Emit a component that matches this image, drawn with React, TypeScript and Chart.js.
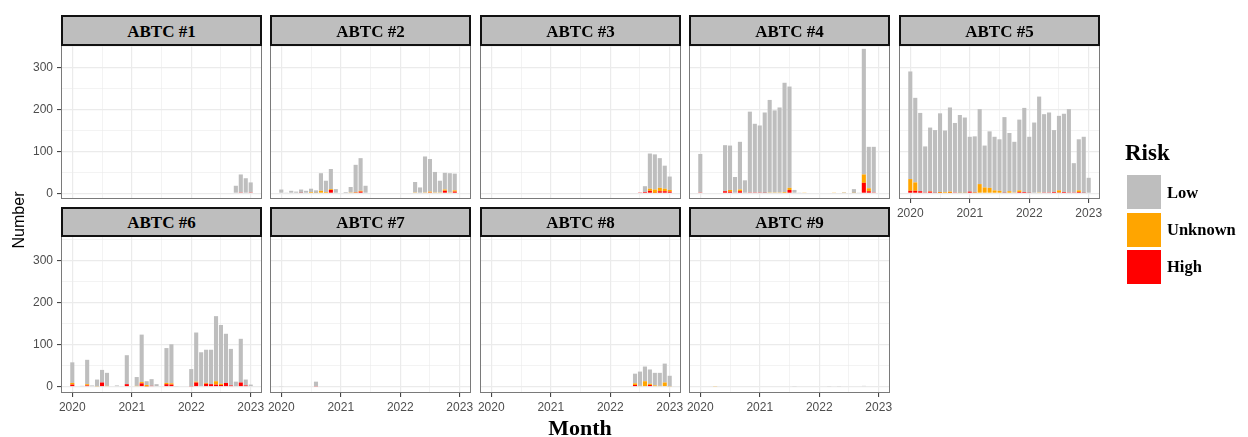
import React, { useEffect, useRef } from "react";
import { Chart, registerables } from "chart.js";

Chart.register(...registerables);

// ---------------- data ----------------
const monthLabels = [
  "2020-01", "2020-02", "2020-03", "2020-04", "2020-05", "2020-06", "2020-07", "2020-08", "2020-09", "2020-10", "2020-11", "2020-12",
  "2021-01", "2021-02", "2021-03", "2021-04", "2021-05", "2021-06", "2021-07", "2021-08", "2021-09", "2021-10", "2021-11", "2021-12",
  "2022-01", "2022-02", "2022-03", "2022-04", "2022-05", "2022-06", "2022-07", "2022-08", "2022-09", "2022-10", "2022-11", "2022-12",
  "2023-01",
];
const yearTickLabels = ["2020", "2021", "2022", "2023"];
const yTickLabels = ["0", "100", "200", "300"];
const panelTitles = ["ABTC #1", "ABTC #2", "ABTC #3", "ABTC #4", "ABTC #5", "ABTC #6", "ABTC #7", "ABTC #8", "ABTC #9"];
const riskLevels = ["Low", "Unknown", "High"];
const riskColors = ["#BEBEBE", "#FFA500", "#FF0000"];

const abtc1Low = [0,0,0,0,0,0,0,0,0,0,0,0, 0,0,0,0,0,0,0,0,0,0,0,0, 0,0,0,0,0,0,0,0,0,18,43,36, 24];
const abtc1Unknown = [0,0,0,0,0,0,0,0,0,0,0,0, 0,0,0,0,0,0,0,0,0,0,0,0, 0,0,0,0,0,0,0,0,0,0,0,0, 0];
const abtc1High = [0,0,0,0,0,0,0,0,0,0,0,0, 0,0,0,0,0,0,0,0,0,0,0,0, 0,0,0,0,0,0,0,0,0,0,2,0, 2];

const abtc2Low = [9,1,6,4,8,6,8,6,42,27,48,10, 0,3,13,66,78,18,0,0,0,0,0,0, 0,0,0,25,14,86,78,49,28,40,46,40, 0];
const abtc2Unknown = [0,0,0,0,0,0,3,1,6,3,2,0, 0,0,2,1,2,0,0,0,0,0,0,0, 0,0,0,2,0,2,2,2,2,3,2,3, 0];
const abtc2High = [0,0,0,0,1,0,0,0,0,0,8,0, 0,0,0,1,4,0,0,0,0,0,0,0, 0,0,0,0,0,0,2,0,0,6,0,4, 0];

const abtc3Low = [0,0,0,0,0,0,0,0,0,0,0,0, 0,0,0,0,0,0,0,0,0,0,0,0, 0,0,0,0,0,0,0,14,84,84,71,55, 32];
const abtc3Unknown = [0,0,0,0,0,0,0,0,0,0,0,0, 0,0,0,0,0,0,0,0,0,0,0,0, 0,0,0,0,0,0,0,0,5,8,8,6, 4];
const abtc3High = [0,0,0,0,0,0,0,0,0,0,0,0, 0,0,0,0,0,0,0,0,0,0,0,0, 0,0,0,0,0,0,2,3,6,1,5,5, 4];

const abtc4Low = [92,0,0,0,0,110,106,39,114,31,193,164, 160,192,221,196,203,261,242,8,1,0,0,0, 0,0,0,0,0,1,0,9,1,300,99,109, 0];
const abtc4Unknown = [0,0,0,0,0,0,4,0,4,0,0,0, 0,0,2,2,2,3,5,0,0,1,0,0, 0,0,0,1,0,1,0,1,0,20,7,0, 0];
const abtc4High = [2,0,0,0,0,5,4,0,5,0,2,2, 2,1,0,0,0,0,8,0,0,0,0,0, 0,0,0,0,0,0,0,0,0,25,5,2, 0];

const abtc5Low = [257,202,187,110,152,150,188,147,201,166,186,180, 131,134,179,100,135,128,123,181,139,121,169,201, 134,169,229,187,191,148,178,187,199,70,122,134, 37];
const abtc5Unknown = [28,20,0,0,1,0,2,3,3,0,1,1, 0,1,22,14,13,7,6,0,5,2,4,0, 0,0,2,0,0,0,5,0,0,0,4,0, 0];
const abtc5High = [6,6,5,2,4,1,1,0,1,2,0,0, 4,1,0,0,0,0,0,1,0,0,3,3, 1,0,0,2,2,3,2,3,2,2,3,1, 0];

const abtc6Low = [49,0,2,58,3,16,30,31,0,3,0,69, 0,21,113,9,16,6,0,83,93,1,0,0, 41,117,82,79,82,155,140,117,87,12,104,14, 5];
const abtc6Unknown = [4,0,0,3,0,1,0,2,0,0,0,0, 0,2,3,3,0,0,0,3,3,0,0,0, 0,2,0,2,0,8,3,0,0,0,0,0, 0];
const abtc6High = [5,0,0,3,0,0,10,0,0,0,0,6, 0,0,8,1,2,0,0,6,5,0,0,0, 1,10,0,7,6,5,4,9,3,0,10,3, 0];

const abtc7Low = [1,0,0,0,0,0,0,11,0,0,0,0, 0,0,0,0,0,0,0,0,0,0,0,0, 0,0,0,0,0,0,0,0,0,0,0,0, 0];
const abtc7Unknown = [0,0,0,0,0,0,0,0,0,0,0,0, 0,0,0,0,0,0,0,0,0,0,0,0, 0,0,0,0,0,0,0,0,0,0,0,0, 0];
const abtc7High = [0,0,0,0,0,0,0,1,0,0,0,0, 0,0,0,0,0,0,0,0,0,0,0,0, 0,0,0,0,0,0,0,0,0,0,0,0, 0];

const abtc8Low = [0,0,0,0,0,0,0,0,0,0,0,0, 0,0,0,0,0,0,0,0,0,0,0,0, 0,0,0,0,0,23,34,35,34,30,31,45, 25];
const abtc8Unknown = [0,0,0,0,0,0,0,0,0,0,0,0, 0,0,0,0,0,0,0,0,0,0,0,0, 0,0,0,0,0,4,2,13,3,3,2,10, 1];
const abtc8High = [0,0,0,0,0,0,0,0,0,0,0,0, 0,0,0,0,0,0,0,0,0,0,0,0, 0,0,0,0,0,4,0,0,4,0,0,0, 0];

const abtc9Low = [0,0,0,0,0,0,0,0,0,0,0,0, 0,0,0,0,0,0,0,1,0,0,0,0, 0,0,1,0,1,0,0,0,0,2,0,0, 0];
const abtc9Unknown = [0,0,0,1,0,0,0,0,0,0,0,0, 0,0,0,0,0,0,0,0,0,0,0,0, 0,0,0,0,0,0,0,0,0,0,0,0, 0];
const abtc9High = [0,0,0,0,0,0,0,0,0,0,0,0, 0,0,0,0,0,0,0,0,0,0,0,0, 0,0,0,0,0,0,0,0,0,0,0,0, 0];

const panelSeries = [
  { low: abtc1Low, unknown: abtc1Unknown, high: abtc1High },
  { low: abtc2Low, unknown: abtc2Unknown, high: abtc2High },
  { low: abtc3Low, unknown: abtc3Unknown, high: abtc3High },
  { low: abtc4Low, unknown: abtc4Unknown, high: abtc4High },
  { low: abtc5Low, unknown: abtc5Unknown, high: abtc5High },
  { low: abtc6Low, unknown: abtc6Unknown, high: abtc6High },
  { low: abtc7Low, unknown: abtc7Unknown, high: abtc7High },
  { low: abtc8Low, unknown: abtc8Unknown, high: abtc8High },
  { low: abtc9Low, unknown: abtc9Unknown, high: abtc9High },
];

// ---------------- layout ----------------
const COL_LEFT = [61, 270, 480, 689, 899];
const PANEL_W = 201;
const ROWS = [
  { stripTop: 15, top: 45, bottom: 199, yMin: -13.6, yMax: 354.2 },
  { stripTop: 207, top: 236, bottom: 393, yMin: -15.0, yMax: 358.8 },
];
const X_MIN = -2.28;
const X_MAX = 38.28;
const X_GRID = [0, 6, 12, 18, 24, 30, 36];
const Y_GRID = [0, 50, 100, 150, 200, 250, 300, 350];
const ML = 50;
const MR = 22;
const MB = 30;
const SERIF = "'Liberation Serif', 'Times New Roman', serif";
const SANS = "'Liberation Sans', Arial, sans-serif";

const panelBorder = {
  id: "panelBorder",
  afterDatasetsDraw(chart: any) {
    const { ctx, chartArea: a } = chart;
    ctx.save();
    ctx.strokeStyle = "#7A7A7A";
    ctx.lineWidth = 1;
    ctx.strokeRect(a.left + 0.5, a.top + 0.5, a.right - a.left - 1, a.bottom - a.top - 1);
    ctx.restore();
  },
};

function Panel({ index }: { index: number }) {
  const ref = useRef<HTMLCanvasElement | null>(null);
  const row = index < 5 ? 0 : 1;
  const col = index < 5 ? index : index - 5;
  const showY = col === 0;
  const showX = row === 1 || index === 4;
  const geo = ROWS[row];
  const panelH = geo.bottom - geo.top;
  const W = PANEL_W + ML + MR;
  const H = panelH + MB;

  useEffect(() => {
    if (!ref.current) return;
    const s = panelSeries[index];
    const pts = (arr: number[]) => arr.map((v, i) => ({ x: i, y: v > 0 ? v : null, month: monthLabels[i] }));
    const isMajorX = (v: number) => v % 12 === 0;
    const isMajorY = (v: number) => v % 100 === 0;
    const chart = new Chart(ref.current, {
      type: "bar",
      data: {
        datasets: [
          { label: riskLevels[2], data: pts(s.high), backgroundColor: riskColors[2] },
          { label: riskLevels[1], data: pts(s.unknown), backgroundColor: riskColors[1] },
          { label: riskLevels[0], data: pts(s.low), backgroundColor: riskColors[0] },
        ] as any,
      },
      options: {
        responsive: false,
        animation: false,
        devicePixelRatio: 1,
        layout: { padding: { left: 0, right: MR, top: 0, bottom: 0 } },
        datasets: { bar: { barThickness: 4.1, borderWidth: 0, inflateAmount: 0, skipNull: true } } as any,
        plugins: { legend: { display: false }, tooltip: { enabled: false }, title: { display: false } },
        scales: {
          x: {
            type: "linear",
            stacked: true,
            min: X_MIN,
            max: X_MAX,
            offset: false,
            border: { display: false },
            grid: {
              offset: false,
              color: "#EBEBEB",
              lineWidth: (c: any) => (c.tick && isMajorX(c.tick.value) ? 1.2 : 0.6),
              drawTicks: showX,
              tickLength: 4,
              tickWidth: 1,
              tickColor: (c: any) => (c.tick && isMajorX(c.tick.value) ? "#333333" : "rgba(0,0,0,0)"),
            },
            ticks: {
              display: showX,
              autoSkip: false,
              maxRotation: 0,
              minRotation: 0,
              padding: 3,
              color: "#4D4D4D",
              font: { family: SANS, size: 12 },
              callback: (v: any) => (isMajorX(Number(v)) ? yearTickLabels[Number(v) / 12] : ""),
            },
            afterBuildTicks: (axis: any) => {
              axis.ticks = X_GRID.map((v) => ({ value: v }));
            },
            afterFit: (axis: any) => {
              axis.height = MB;
              axis.paddingLeft = 0;
              axis.paddingRight = 0;
            },
          } as any,
          y: {
            type: "linear",
            stacked: true,
            min: geo.yMin,
            max: geo.yMax,
            border: { display: false },
            grid: {
              color: "#EBEBEB",
              lineWidth: (c: any) => (c.tick && isMajorY(c.tick.value) ? 1.2 : 0.6),
              drawTicks: showY,
              tickLength: 4,
              tickWidth: 1,
              tickColor: (c: any) => (c.tick && isMajorY(c.tick.value) ? "#333333" : "rgba(0,0,0,0)"),
            },
            ticks: {
              display: showY,
              autoSkip: false,
              padding: 4,
              color: "#4D4D4D",
              font: { family: SANS, size: 12 },
              callback: (v: any) => (isMajorY(Number(v)) ? yTickLabels[Number(v) / 100] : ""),
            },
            afterBuildTicks: (axis: any) => {
              axis.ticks = Y_GRID.map((v) => ({ value: v }));
            },
            afterFit: (axis: any) => {
              axis.width = ML;
              axis.paddingTop = 0;
              axis.paddingBottom = 0;
            },
          } as any,
        },
      },
      plugins: [panelBorder],
    });
    return () => chart.destroy();
  }, [index]);

  return (
    <canvas
      ref={ref}
      width={W}
      height={H}
      style={{ position: "absolute", left: COL_LEFT[col] - ML, top: geo.top, width: W, height: H }}
    />
  );
}

function Strip({ index }: { index: number }) {
  const row = index < 5 ? 0 : 1;
  const col = index < 5 ? index : index - 5;
  const geo = ROWS[row];
  return (
    <div
      style={{
        position: "absolute",
        left: COL_LEFT[col],
        top: geo.stripTop,
        width: PANEL_W,
        height: geo.top - geo.stripTop + 1,
        boxSizing: "border-box",
        border: "2px solid #111",
        background: "#BEBEBE",
        display: "flex",
        alignItems: "center",
        justifyContent: "center",
        fontFamily: SERIF,
        fontWeight: "bold",
        fontSize: 17,
        lineHeight: "17px",
        paddingTop: 1,
        color: "#000",
      }}
    >
      {panelTitles[index]}
    </div>
  );
}

export default function App() {
  const legendTops = [175, 212.5, 250];
  const legendTextTops = [185.2, 222.2, 259.2];
  return (
    <div style={{ position: "absolute", left: 0, top: 0, width: 1248, height: 437, background: "#fff", overflow: "hidden" }}>
      {panelTitles.map((_, i) => (
        <Panel key={"p" + i} index={i} />
      ))}
      {panelTitles.map((_, i) => (
        <Strip key={"s" + i} index={i} />
      ))}
      <div
        style={{
          position: "absolute",
          left: 18.5 - 50,
          top: 220 - 9,
          width: 100,
          height: 18,
          lineHeight: "18px",
          textAlign: "center",
          fontFamily: SANS,
          fontSize: 16,
          color: "#000",
          transform: "rotate(-90deg)",
          transformOrigin: "50% 50%",
        }}
      >
        Number
      </div>
      <div
        style={{
          position: "absolute",
          left: 480,
          top: 416.6,
          width: 200,
          textAlign: "center",
          fontFamily: SERIF,
          fontWeight: "bold",
          fontSize: 22,
          lineHeight: "22px",
          color: "#000",
        }}
      >
        Month
      </div>
      <div
        style={{
          position: "absolute",
          left: 1125,
          top: 140.7,
          fontFamily: SERIF,
          fontWeight: "bold",
          fontSize: 23,
          lineHeight: "23px",
          color: "#000",
        }}
      >
        Risk
      </div>
      {riskLevels.map((r, i) => (
        <React.Fragment key={r}>
          <div
            style={{
              position: "absolute",
              left: 1127,
              top: legendTops[i],
              width: 34,
              height: 34,
              background: riskColors[i],
            }}
          />
          <div
            style={{
              position: "absolute",
              left: 1167,
              top: legendTextTops[i],
              fontFamily: SERIF,
              fontWeight: "bold",
              fontSize: 16.5,
              lineHeight: "16.5px",
              color: "#000",
              whiteSpace: "nowrap",
            }}
          >
            {r}
          </div>
        </React.Fragment>
      ))}
    </div>
  );
}
